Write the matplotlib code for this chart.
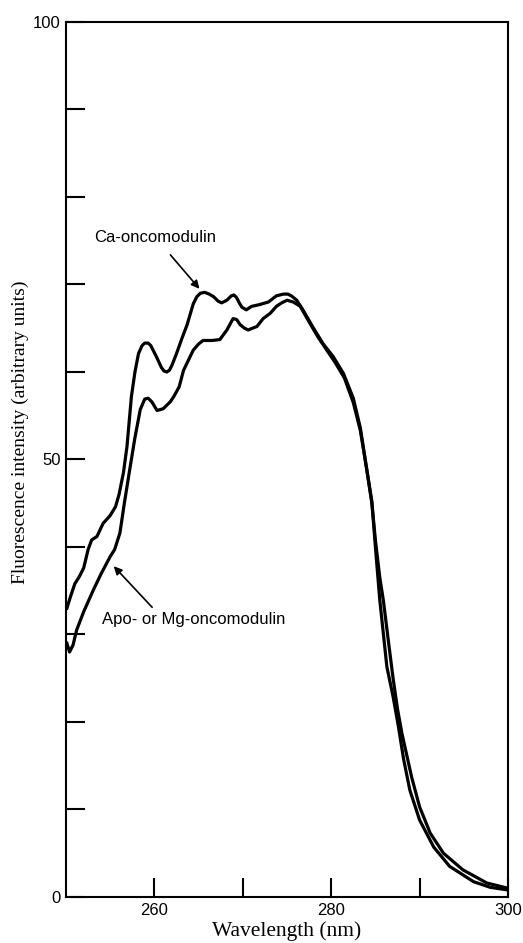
#!/usr/bin/env python

import matplotlib
matplotlib.use('Agg')
import matplotlib.pyplot as plt

# Ca-oncomodulin spectrum (wavelength nm, intensity)
ca_wl = [250.1, 250.5, 251.0, 251.5, 252.0, 252.5, 252.9, 253.5, 254.2, 255.0,
         255.6, 256.0, 256.5, 256.9, 257.4, 257.8, 258.2, 258.6, 258.9, 259.3,
         259.6, 260.2, 260.8, 261.1, 261.4, 261.7, 262.0, 262.5, 263.1, 263.7,
         264.4, 264.8, 265.2, 265.7, 266.2, 266.7, 267.2, 267.6, 268.2, 268.7,
         269.0, 269.3, 269.6, 269.9, 270.4, 271.0, 271.9, 272.9, 273.8, 274.6,
         275.1, 275.5, 276.1, 276.8, 278.0, 279.1, 280.2, 281.4, 282.5, 283.3,
         284.0, 284.6, 285.0, 285.5, 285.9, 286.5, 287.0, 287.5, 288.0, 289.1,
         290.0, 291.2, 292.7, 294.9, 297.6, 300.0]
ca_int = [33.0, 34.3, 35.8, 36.6, 37.6, 39.7, 40.8, 41.2, 42.7, 43.6,
          44.6, 46.0, 48.5, 51.5, 57.2, 60.0, 62.1, 63.0, 63.3, 63.3,
          63.0, 61.8, 60.5, 60.1, 60.0, 60.2, 60.8, 62.1, 63.8, 65.4,
          67.8, 68.6, 69.0, 69.1, 68.9, 68.6, 68.1, 67.9, 68.2, 68.7,
          68.8, 68.5, 67.9, 67.4, 67.1, 67.5, 67.7, 68.0, 68.7, 68.9,
          68.9, 68.7, 68.2, 67.1, 65.0, 63.2, 61.8, 59.8, 57.0, 53.6,
          49.0, 45.0, 40.8, 36.5, 33.9, 29.0, 25.0, 21.5, 18.7, 13.7,
          10.3, 7.3, 5.0, 3.1, 1.6, 1.0]

# Apo- or Mg-oncomodulin spectrum
apo_wl = [250.1, 250.4, 250.8, 251.2, 252.0, 253.1, 254.0, 255.0, 255.5, 256.1,
          256.6, 257.2, 257.8, 258.4, 258.9, 259.3, 259.7, 260.3, 261.0, 261.8,
          262.2, 262.8, 263.3, 264.4, 265.0, 265.5, 266.5, 267.4, 268.2, 268.9,
          269.3, 269.7, 270.2, 270.6, 271.6, 272.3, 273.1, 273.8, 274.4, 275.0,
          275.7, 276.5, 277.4, 278.5, 279.5, 280.5, 281.5, 282.5, 283.3, 284.0,
          284.6, 285.0, 285.5, 286.3, 287.0, 287.6, 288.2, 288.9, 290.0, 291.6,
          293.4, 296.1, 298.0, 300.0]
apo_int = [29.0, 28.0, 28.8, 30.5, 32.6, 35.1, 37.0, 38.9, 39.7, 41.6,
           45.0, 48.8, 52.5, 55.7, 56.9, 57.0, 56.6, 55.6, 55.8, 56.6,
           57.2, 58.3, 60.2, 62.5, 63.2, 63.6, 63.6, 63.7, 64.8, 66.1,
           66.0, 65.4, 65.0, 64.8, 65.2, 66.1, 66.7, 67.5, 67.9, 68.2,
           68.0, 67.5, 65.9, 64.0, 62.5, 61.0, 59.3, 56.5, 53.3, 49.0,
           45.2, 40.0, 33.9, 26.3, 22.9, 19.5, 15.7, 12.2, 8.8, 5.7,
           3.5, 1.75, 1.1, 0.8]

x_ticks = [260, 270, 280, 290, 300]
x_labels = ['260', '', '280', '', '300']
y_ticks = [0, 10, 20, 30, 40, 50, 60, 70, 80, 90, 100]
y_labels = ['0', '', '', '', '', '50', '', '', '', '', '100']

sans = 'Liberation Sans'
serif = 'Liberation Serif'

fig = plt.figure(figsize=(5.23, 9.43), dpi=100)
ax = fig.add_axes([0.1262, 0.0488, 0.9713 - 0.1262, 0.9767 - 0.0488])

ax.plot(ca_wl, ca_int, color='black', lw=2.3, solid_joinstyle='round')
ax.plot(apo_wl, apo_int, color='black', lw=2.3, solid_joinstyle='round')

ax.set_xlim(250, 300)
ax.set_ylim(0, 100)

ax.set_xticks(x_ticks)
ax.set_xticklabels(x_labels, fontfamily=sans, fontsize=12)
ax.set_yticks(y_ticks)
ax.set_yticklabels(y_labels, fontfamily=sans, fontsize=12)
ax.tick_params(direction='in', length=14, width=1.5, pad=4)

for s in ax.spines.values():
    s.set_linewidth(1.5)

ax.set_xlabel('Wavelength (nm)', fontfamily=serif, fontsize=15.5, labelpad=3)
ax.set_ylabel('Fluorescence intensity (arbitrary units)', fontfamily=serif,
              fontsize=14)
ax.yaxis.set_label_coords(-0.084, 0.531)

ax.annotate('Ca-oncomodulin', xy=(265.1, 69.5), xytext=(260.1, 75.4),
            ha='center', va='center', fontfamily=sans, fontsize=12,
            arrowprops=dict(arrowstyle='-|>', color='black', lw=1.2,
                            mutation_scale=12, shrinkA=7, shrinkB=0))
ax.annotate('Apo- or Mg-oncomodulin', xy=(255.4, 37.8), xytext=(264.4, 31.7),
            ha='center', va='center', fontfamily=sans, fontsize=12,
            arrowprops=dict(arrowstyle='-|>', color='black', lw=1.2,
                            mutation_scale=12, shrinkA=2, shrinkB=0,
                            relpos=(0.3, 1.0)))

fig.savefig('out.png', dpi=100)
